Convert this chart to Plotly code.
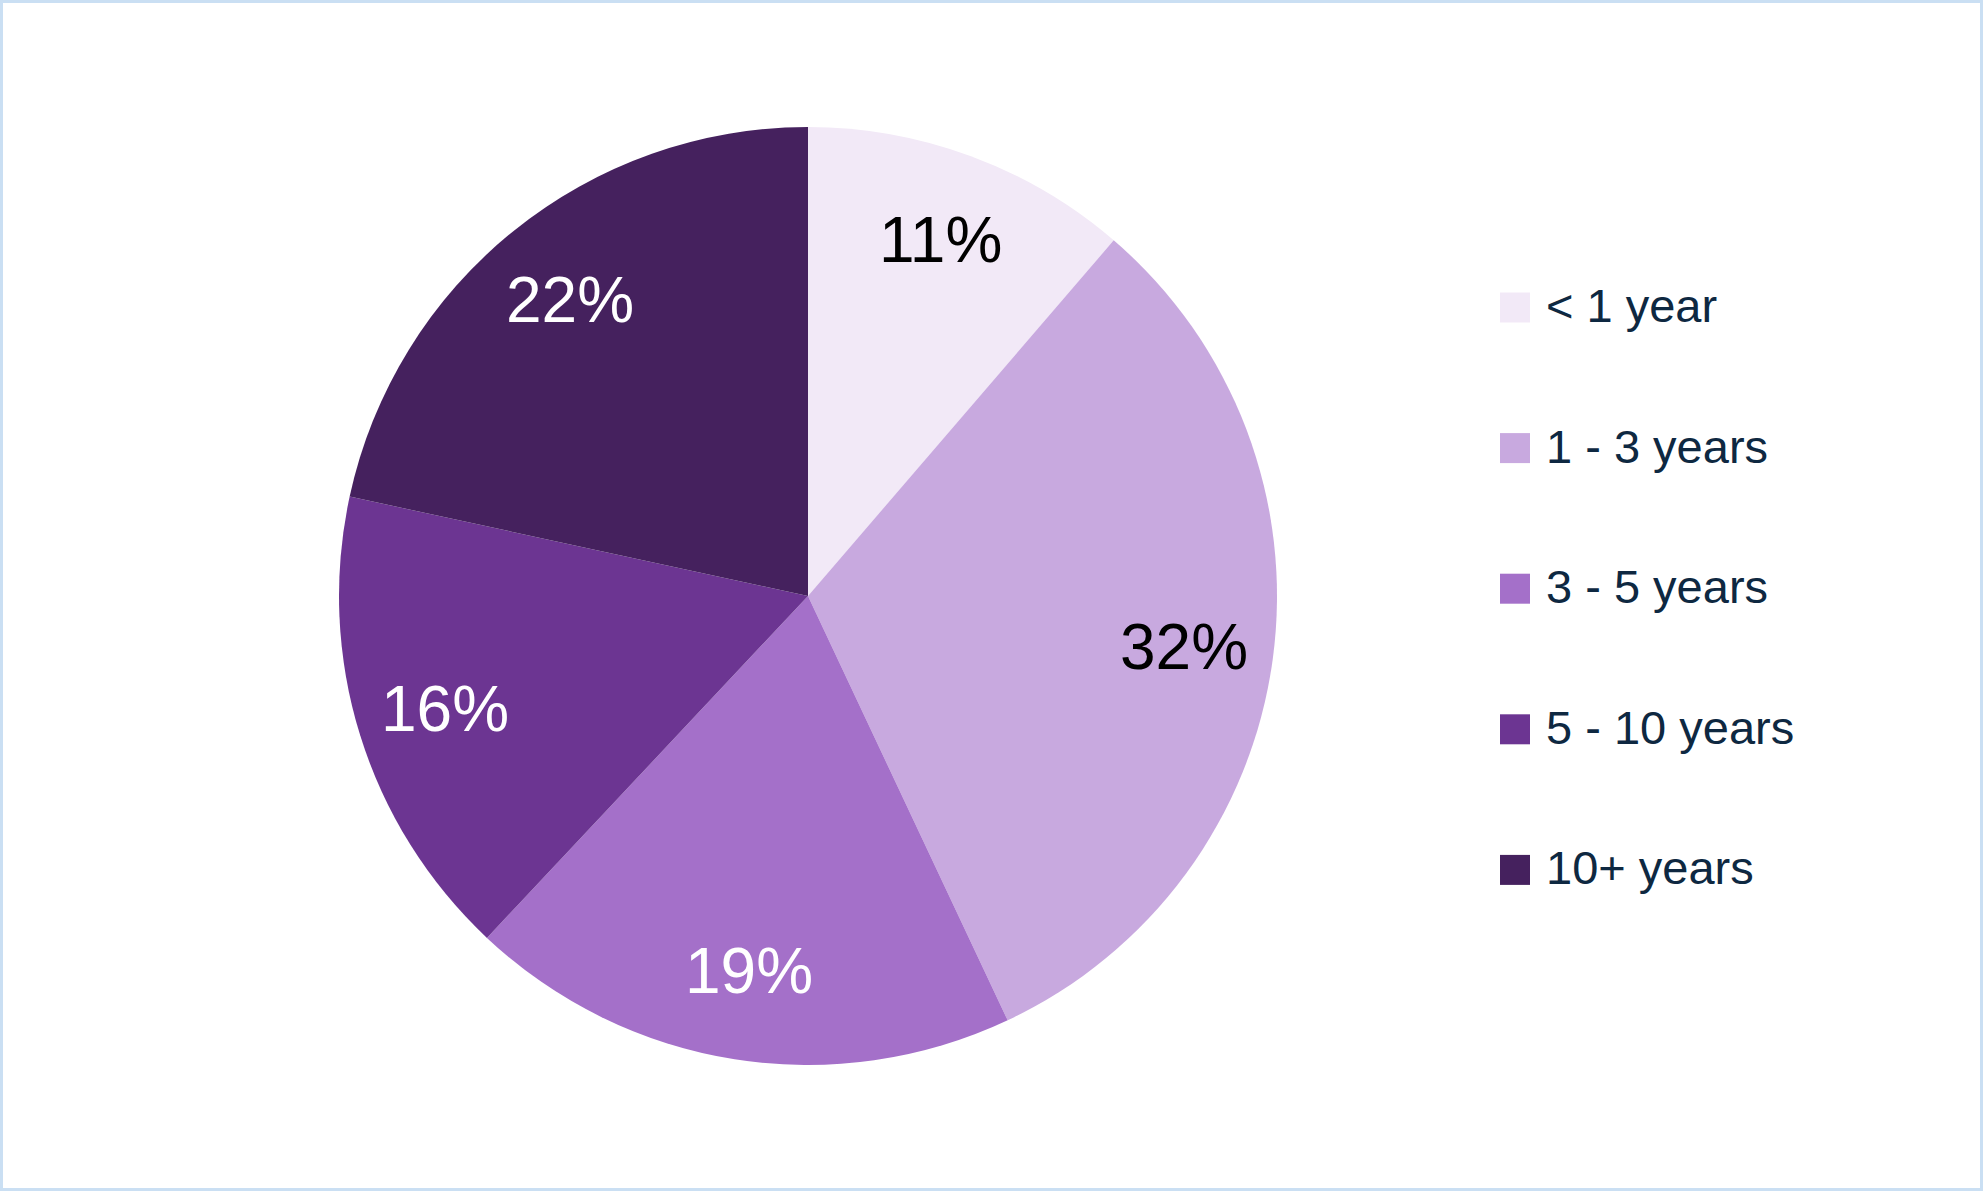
import math
import plotly.graph_objects as go

categories = ["< 1 year", "1 - 3 years", "3 - 5 years", "5 - 10 years", "10+ years"]
values = [11.3, 31.7, 19.0, 16.4, 21.6]
colors = ["#F2E9F7", "#C8A9DF", "#A470C9", "#6C3592", "#45215E"]
label_colors = ["#000000", "#000000", "#FFFFFF", "#FFFFFF", "#FFFFFF"]

W, H = 1983, 1191
CX, CY, R = 808, 596, 469
LABEL_FONT = "Liberation Sans, Arial, sans-serif"
TEXT_DARK = "#0E2841"


def px(x):
    return x / W


def py(y):
    return 1 - y / H


fig = go.Figure()
fig.add_trace(go.Pie(
    labels=categories,
    values=values,
    marker=dict(colors=colors, line=dict(width=0)),
    sort=False,
    direction="clockwise",
    rotation=0,
    textinfo="none",
    hoverinfo="label+percent",
    showlegend=False,
    domain=dict(x=[px(CX - R), px(CX + R)], y=[py(CY + R), py(CY - R)]),
))

annotations = []
total = sum(values)
cum = 0
for v, lc in zip(values, label_colors):
    mid = (cum + v / 2) / total * 2 * math.pi
    cum += v
    r = 0.81 * R
    x = CX + r * math.sin(mid)
    y = CY - r * math.cos(mid)
    annotations.append(dict(
        x=px(x), y=py(y), xref="paper", yref="paper",
        text=f"{round(v / total * 100)}%", showarrow=False,
        font=dict(family=LABEL_FONT, size=64, color=lc),
        xanchor="center", yanchor="middle",
    ))

shapes = []
LEG_X, LEG_Y0, LEG_DY, BOX = 1500, 307.5, 140.6, 30
for i, (cat, col) in enumerate(zip(categories, colors)):
    yc = LEG_Y0 + i * LEG_DY
    shapes.append(dict(
        type="rect", xref="paper", yref="paper",
        x0=px(LEG_X), x1=px(LEG_X + BOX), y0=py(yc + BOX / 2), y1=py(yc - BOX / 2),
        fillcolor=col, line=dict(width=0),
    ))
    annotations.append(dict(
        x=px(LEG_X + 44), y=py(yc - 2), xref="paper", yref="paper",
        text=cat, showarrow=False,
        font=dict(family=LABEL_FONT, size=47, color=TEXT_DARK),
        xanchor="left", yanchor="middle",
    ))

shapes.append(dict(
    type="rect", xref="paper", yref="paper", x0=0, x1=1, y0=0, y1=1,
    line=dict(color="#CADFF3", width=6), fillcolor="rgba(0,0,0,0)",
))

fig.update_layout(
    width=W, height=H,
    margin=dict(l=0, r=0, t=0, b=0),
    paper_bgcolor="white", plot_bgcolor="white",
    annotations=annotations, shapes=shapes,
)

fig.write_html(
    "out.html",
    config={"displayModeBar": False},
    post_script="document.body.style.margin='0px';document.body.style.overflow='hidden';",
)
